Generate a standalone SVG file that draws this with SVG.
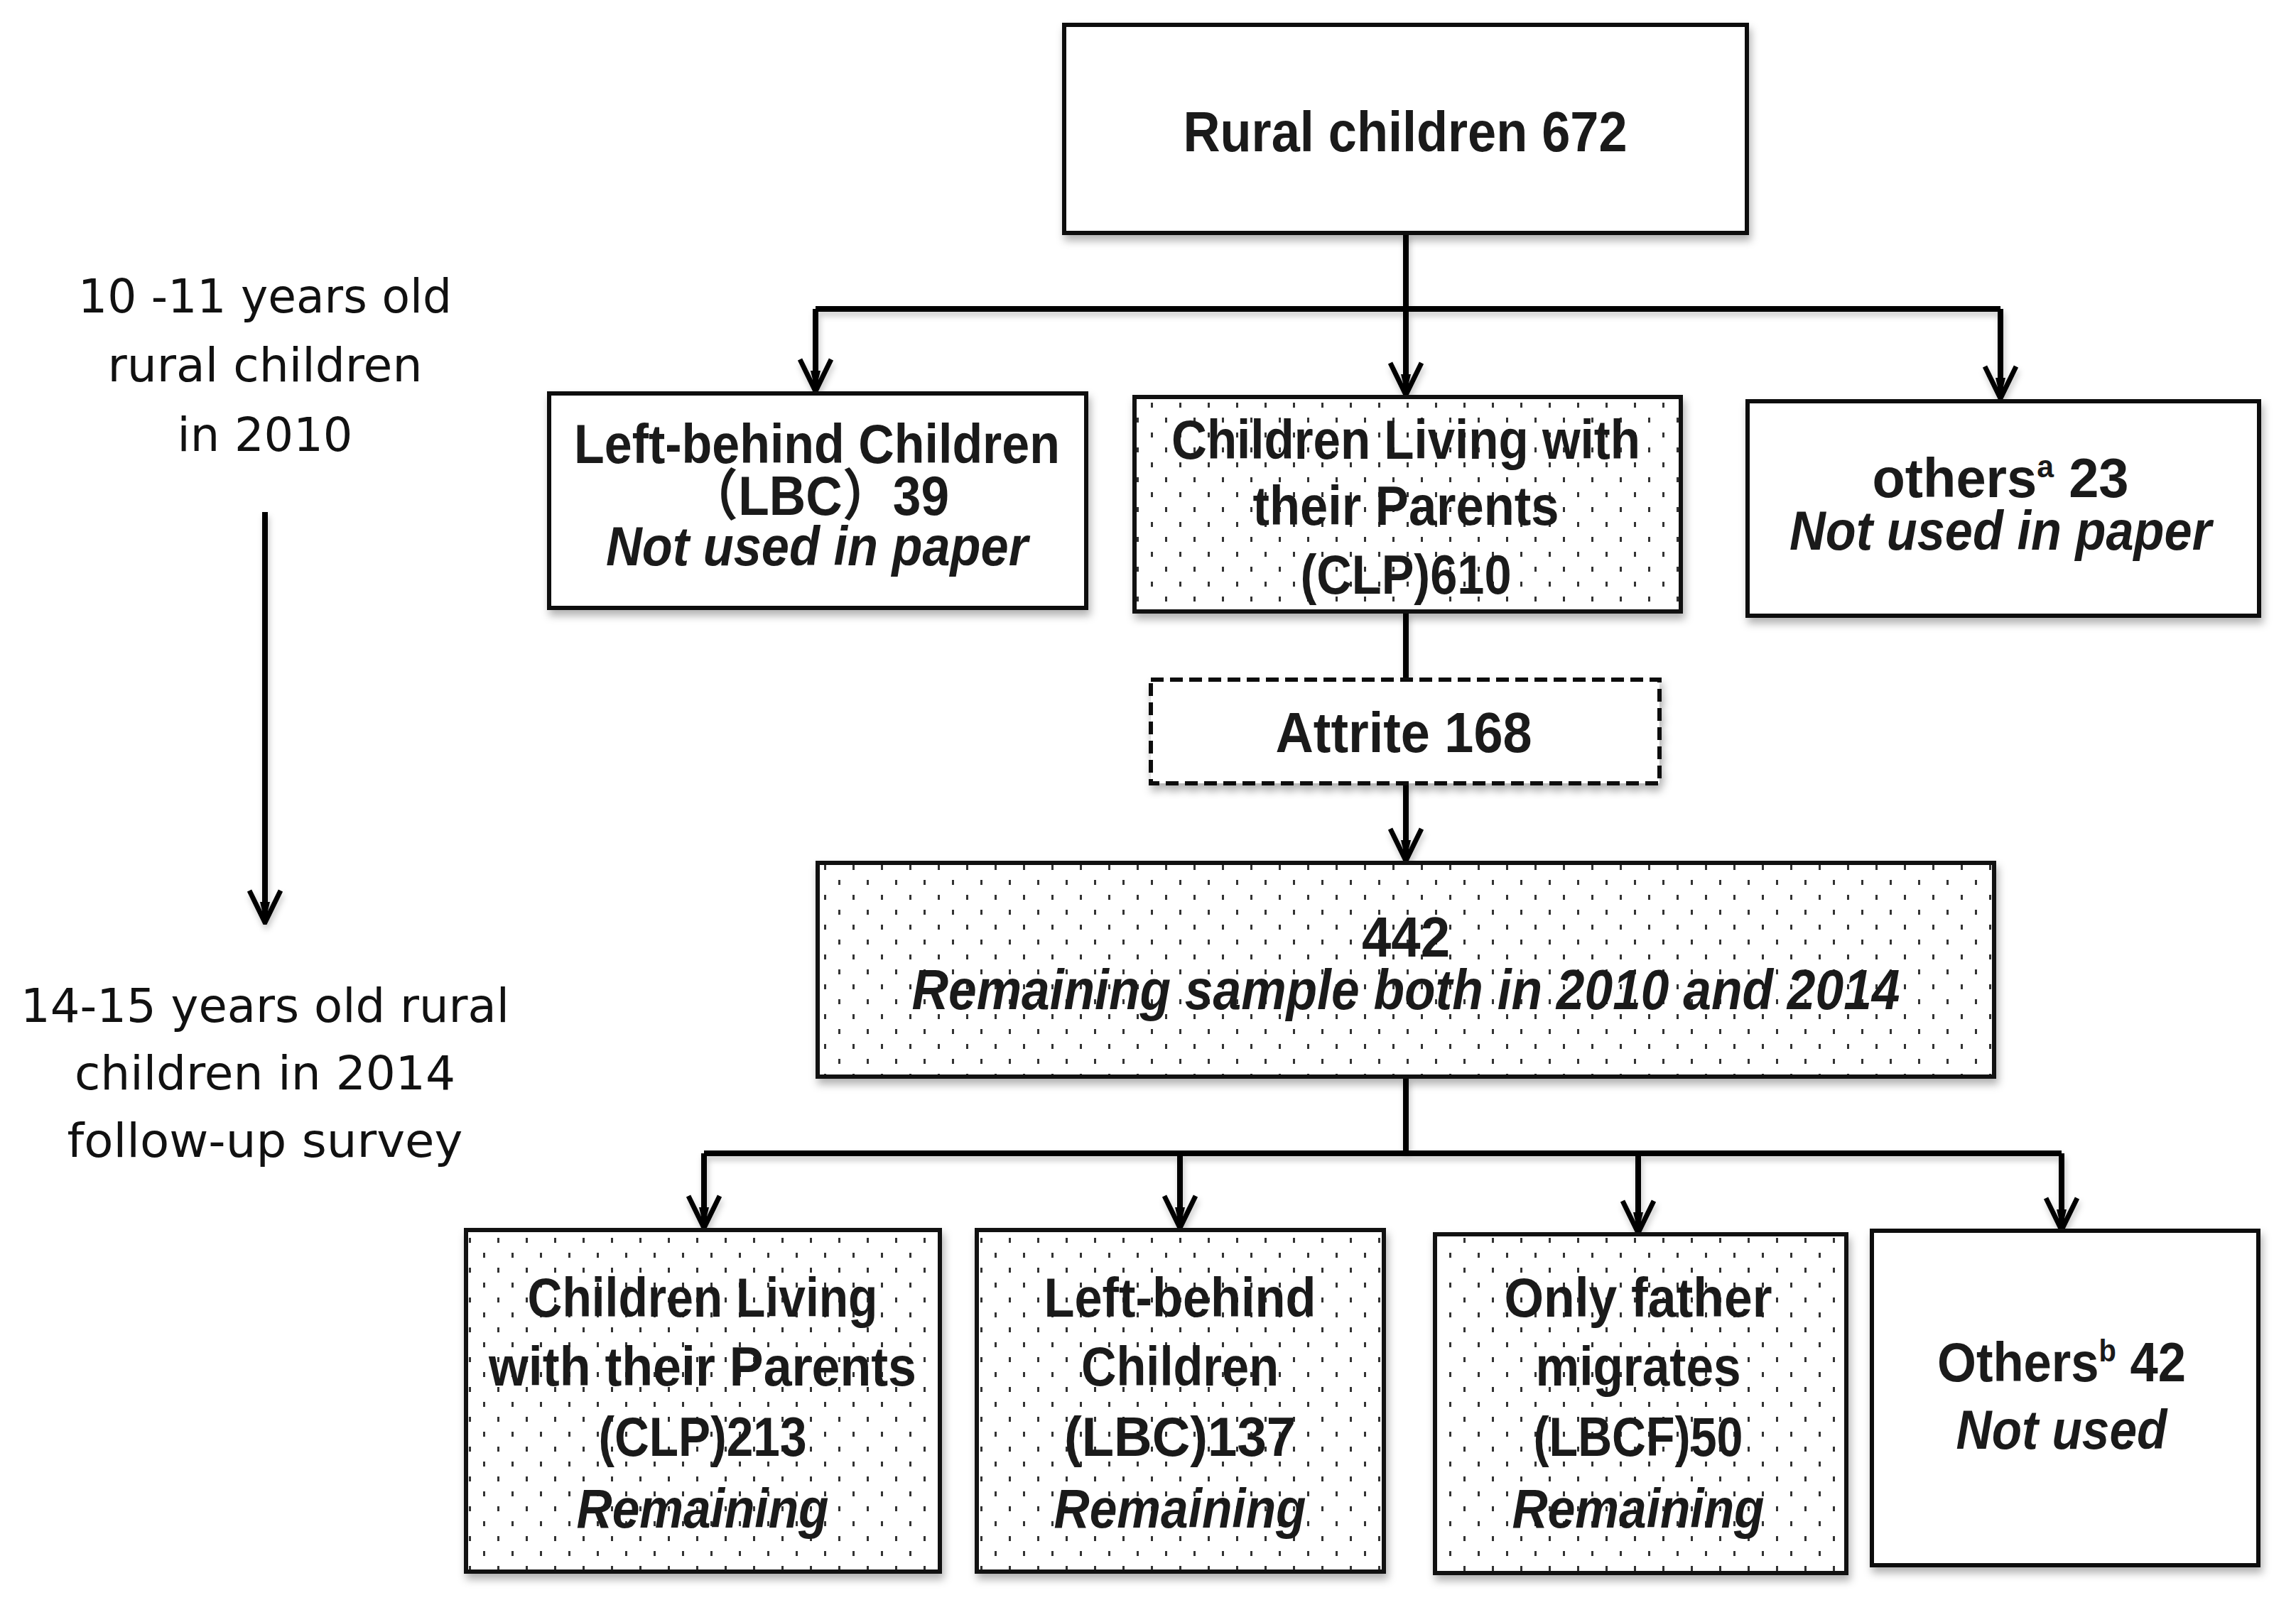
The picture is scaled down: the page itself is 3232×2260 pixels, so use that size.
<svg xmlns="http://www.w3.org/2000/svg" width="3232" height="2260" viewBox="0 0 3232 2260">
<style>
.box{fill:#fff;stroke:#111;stroke-width:6;filter:url(#sh)}
.dots{fill:url(#dots);stroke:#111;stroke-width:6}
.dash{fill:#fff;stroke:#111;stroke-width:6;stroke-dasharray:18 9;filter:url(#sh)}
.t{font-family:"Liberation Sans","Noto Sans CJK SC",Arial,sans-serif;font-weight:bold;font-size:78px;fill:#1a1a1a;text-anchor:middle}
.big{font-size:80px}
.i{font-style:italic}
.side{font-family:"DejaVu Sans",Verdana,sans-serif;font-size:66px;fill:#111;text-anchor:middle}
.ln{fill:none;stroke:#000;stroke-width:8}
.ar{marker-end:url(#arr)}
</style>
<defs>
<filter id="sh" x="-5%" y="-5%" width="115%" height="120%">
<feDropShadow dx="3" dy="8" stdDeviation="6" flood-color="#000" flood-opacity="0.3"/>
</filter>
<filter id="lsh" filterUnits="userSpaceOnUse" x="0" y="0" width="3232" height="2260">
<feDropShadow dx="2" dy="6" stdDeviation="4" flood-color="#000" flood-opacity="0.22"/>
</filter>
<pattern id="dots" width="40" height="42" patternUnits="userSpaceOnUse">
<rect x="0" y="0" width="3" height="7" fill="#333"/>
<rect x="20" y="21" width="3" height="7" fill="#333"/>
</pattern>
<marker id="arr" markerUnits="userSpaceOnUse" viewBox="0 0 52 50" refX="49" refY="25" markerWidth="52" markerHeight="50" orient="auto">
<path d="M4,3 L49,25 L4,47" fill="none" stroke="#000" stroke-width="7"/>
<path d="M20,18 L49,25 L20,32 Z" fill="#000"/>
</marker>
</defs>
<rect width="3232" height="2260" fill="#fff"/>

<g id="connectors" filter="url(#lsh)">
<path class="ln" d="M1979,328 V435 M1148,435 H2816 M1979,862 V956 M1979,1517 V1624 M991,1624 H2902"/>
<path class="ln ar" d="M1148,435 V551"/>
<path class="ln ar" d="M1979,435 V556"/>
<path class="ln ar" d="M2816,435 V561"/>
<path class="ln ar" d="M1979,1103 V1212"/>
<path class="ln ar" d="M991,1624 V1729"/>
<path class="ln ar" d="M1661,1624 V1729"/>
<path class="ln ar" d="M2306,1624 V1736"/>
<path class="ln ar" d="M2902,1624 V1732"/>
<path class="ln ar" d="M373,721 V1299"/>
</g>

<g id="timeline-labels">
<text class="side" x="373" y="440" textLength="526" lengthAdjust="spacingAndGlyphs">10 -11 years old</text>
<text class="side" x="373" y="537" textLength="443" lengthAdjust="spacingAndGlyphs">rural children</text>
<text class="side" x="373" y="635" textLength="247" lengthAdjust="spacingAndGlyphs">in 2010</text>
<text class="side" x="373" y="1439" textLength="688" lengthAdjust="spacingAndGlyphs">14-15 years old rural</text>
<text class="side" x="373" y="1534" textLength="536" lengthAdjust="spacingAndGlyphs">children in 2014</text>
<text class="side" x="373" y="1629" textLength="557" lengthAdjust="spacingAndGlyphs">follow-up survey</text>
</g>

<g id="rural">
<rect class="box" x="1498" y="35" width="961" height="293"/>
<text class="t big" x="1978" y="213" textLength="625" lengthAdjust="spacingAndGlyphs">Rural children  672</text>
</g>

<g id="lbc2010">
<rect class="box" x="773" y="554" width="756" height="302"/>
<text class="t" x="1150" y="652" textLength="684" lengthAdjust="spacingAndGlyphs">Left-behind Children</text>
<text class="t" x="1152" y="725" textLength="368" lengthAdjust="spacingAndGlyphs">（LBC）39</text>
<text class="t i" x="1150" y="796" textLength="594" lengthAdjust="spacingAndGlyphs">Not used in paper</text>
</g>

<g id="clp2010">
<rect class="box" x="1597" y="559" width="769" height="302"/>
<rect class="dots" x="1597" y="559" width="769" height="302"/>
<text class="t" x="1979" y="646" textLength="660" lengthAdjust="spacingAndGlyphs">Children Living with</text>
<text class="t" x="1979" y="739" textLength="431" lengthAdjust="spacingAndGlyphs">their Parents</text>
<text class="t" x="1979" y="836" textLength="297" lengthAdjust="spacingAndGlyphs">(CLP)610</text>
</g>

<g id="others2010">
<rect class="box" x="2460" y="565" width="720" height="302"/>
<text class="t" x="2816" y="700" textLength="361" lengthAdjust="spacingAndGlyphs">others<tspan font-size="44" dy="-28">a</tspan><tspan dy="28">  23</tspan></text>
<text class="t i" x="2816" y="774" textLength="594" lengthAdjust="spacingAndGlyphs">Not used in paper</text>
</g>

<g id="attrite">
<rect class="dash" x="1620" y="957" width="716" height="146"/>
<text class="t big" x="1976" y="1059" textLength="361" lengthAdjust="spacingAndGlyphs">Attrite 168</text>
</g>

<g id="remaining">
<rect class="box" x="1151" y="1215" width="1656" height="301"/>
<rect class="dots" x="1151" y="1215" width="1656" height="301"/>
<text class="t big" x="1979" y="1347" textLength="124" lengthAdjust="spacingAndGlyphs">442</text>
<text class="t big i" x="1979" y="1421" textLength="1391" lengthAdjust="spacingAndGlyphs">Remaining sample both in 2010 and 2014</text>
</g>

<g id="clp2014">
<rect class="box" x="656" y="1732" width="667" height="481"/>
<rect class="dots" x="656" y="1732" width="667" height="481"/>
<text class="t" x="989" y="1854" textLength="493" lengthAdjust="spacingAndGlyphs">Children Living</text>
<text class="t" x="989" y="1951" textLength="602" lengthAdjust="spacingAndGlyphs">with their Parents</text>
<text class="t" x="989" y="2050" textLength="293" lengthAdjust="spacingAndGlyphs">(CLP)213</text>
<text class="t i" x="989" y="2151" textLength="355" lengthAdjust="spacingAndGlyphs">Remaining</text>
</g>

<g id="lbc2014">
<rect class="box" x="1375" y="1732" width="573" height="481"/>
<rect class="dots" x="1375" y="1732" width="573" height="481"/>
<text class="t" x="1661" y="1854" textLength="383" lengthAdjust="spacingAndGlyphs">Left-behind</text>
<text class="t" x="1661" y="1951" textLength="278" lengthAdjust="spacingAndGlyphs">Children</text>
<text class="t" x="1661" y="2050" textLength="326" lengthAdjust="spacingAndGlyphs">(LBC)137</text>
<text class="t i" x="1661" y="2151" textLength="355" lengthAdjust="spacingAndGlyphs">Remaining</text>
</g>

<g id="lbcf2014">
<rect class="box" x="2020" y="1738" width="579" height="477"/>
<rect class="dots" x="2020" y="1738" width="579" height="477"/>
<text class="t" x="2306" y="1854" textLength="377" lengthAdjust="spacingAndGlyphs">Only father</text>
<text class="t" x="2306" y="1951" textLength="289" lengthAdjust="spacingAndGlyphs">migrates</text>
<text class="t" x="2306" y="2050" textLength="295" lengthAdjust="spacingAndGlyphs">(LBCF)50</text>
<text class="t i" x="2306" y="2151" textLength="355" lengthAdjust="spacingAndGlyphs">Remaining</text>
</g>

<g id="others2014">
<rect class="box" x="2635" y="1733" width="544" height="471"/>
<text class="t" x="2902" y="1945" textLength="350" lengthAdjust="spacingAndGlyphs">Others<tspan font-size="44" dy="-28">b</tspan><tspan dy="28"> 42</tspan></text>
<text class="t i" x="2902" y="2040" textLength="297" lengthAdjust="spacingAndGlyphs">Not used</text>
</g>
</svg>
